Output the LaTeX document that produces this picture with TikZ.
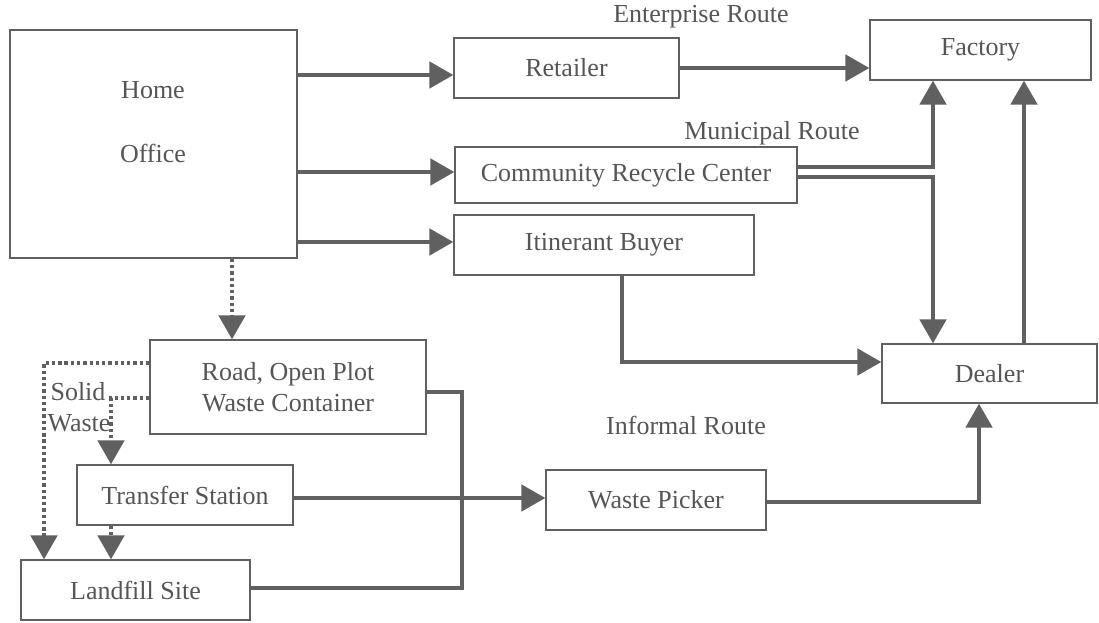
\documentclass[tikz,border=0pt]{standalone}
\usepackage{fontspec}
\setmainfont{Liberation Serif}
\usetikzlibrary{arrows.meta}
\definecolor{lineGray}{RGB}{96,96,96}
\definecolor{textGray}{RGB}{85,85,85}
\begin{document}
\begin{tikzpicture}[x=0.75pt,y=0.75pt,yscale=-1,xscale=1,
  box/.style={draw=lineGray,line width=1.1pt,inner sep=0pt,text=textGray,align=center,font=\fontsize{19.5}{23.5}\selectfont},
  lbl/.style={inner sep=0.75pt,text=textGray,font=\fontsize{19.5}{23.5}\selectfont},
  link/.style={draw=lineGray,line width=2.4pt},
  flow/.style={link,-{Triangle[length=18pt,width=20pt]}},
  waste/.style={flow,dash pattern=on 2.5pt off 2.2pt}]
\useasboundingbox (0,0) rectangle (1099,623);

%Shape: Rectangle [id:home]
\node[box,minimum width=215.25pt,minimum height=171pt] (home) at (153.5,144) {};
%Shape: Rectangle [id:retailer]
\node[box,minimum width=168.75pt,minimum height=45pt] (retailer) at (566.5,68) {Retailer};
%Shape: Rectangle [id:factory]
\node[box,minimum width=165.75pt,minimum height=45pt] (factory) at (980.5,50) {Factory};
%Shape: Rectangle [id:recycle]
\node[box,minimum width=256.5pt,minimum height=42pt] (recycle) at (626,175) {Community Recycle Center};
%Shape: Rectangle [id:buyer]
\node[box,minimum width=225pt,minimum height=45pt] (buyer) at (604,245) {Itinerant Buyer};
%Shape: Rectangle [id:dealer]
\node[box,minimum width=161.25pt,minimum height=44.25pt] (dealer) at (989.5,373.5) {Dealer};
%Shape: Rectangle [id:road]
\node[box,minimum width=207pt,minimum height=70.5pt] (road) at (288,387) {Road, Open Plot\\Waste Container};
%Shape: Rectangle [id:transfer]
\node[box,minimum width=162pt,minimum height=45pt] (transfer) at (185,495) {Transfer Station};
%Shape: Rectangle [id:landfill]
\node[box,minimum width=171.75pt,minimum height=45pt] (landfill) at (135.5,590) {Landfill Site};
%Shape: Rectangle [id:picker]
\node[box,minimum width=165pt,minimum height=45pt] (picker) at (656,500) {Waste Picker};

%Straight Lines [id:formal]
\draw[flow] (home.east |- 0,75) -- (retailer.west |- 0,75);
\draw[flow] (home.east |- 0,172) -- (recycle.west |- 0,172);
\draw[flow] (home.east |- 0,242) -- (buyer.west |- 0,242);
\draw[flow] (retailer.east) -- (factory.west |- retailer.east);
\draw[flow] (recycle.east |- 0,167) -| (factory.south -| 933,0);
\draw[flow] (recycle.east |- 0,177) -| (dealer.north -| 933,0);
\draw[flow] (buyer.south -| 622,0) |- (dealer.west |- 0,362);
\draw[flow] (dealer.north -| 1024,0) -- (factory.south -| 1024,0);
%Straight Lines [id:informal]
\draw[link] (road.east |- 0,392) -| (462,588) -- (landfill.east |- 0,588);
\draw[flow] (transfer.east |- 0,498) -- (picker.west |- 0,498);
\draw[flow] (picker.east |- 0,502) -| (dealer.south -| 979,0);
%Dotted Lines [id:solidwaste]
\draw[waste] (home.south -| 232,0) -- (road.north -| 232,0);
\draw[waste] (road.west |- 0,363) -| (landfill.north -| 44,0);
\draw[waste] (road.west |- 0,398) -| (transfer.north -| 111,0);
\draw[waste] (transfer.south -| 111,0) -- (landfill.north -| 111,0);

% Text Node
\node[lbl] (homeText) at (153,90) {Home};
% Text Node
\node[lbl] (officeText) at (153,153) {Office};
% Text Node
\node[lbl] (enterprise) at (701,17) {Enterprise Route};
% Text Node
\node[lbl] (municipal) at (772,133) {Municipal Route};
% Text Node
\node[lbl] (informal) at (686,425) {Informal Route};
% Text Node
\node[lbl] (solid) at (78,392) {Solid};
% Text Node
\node[lbl] (wasteText) at (79,423) {Waste};

\end{tikzpicture}
\end{document}
